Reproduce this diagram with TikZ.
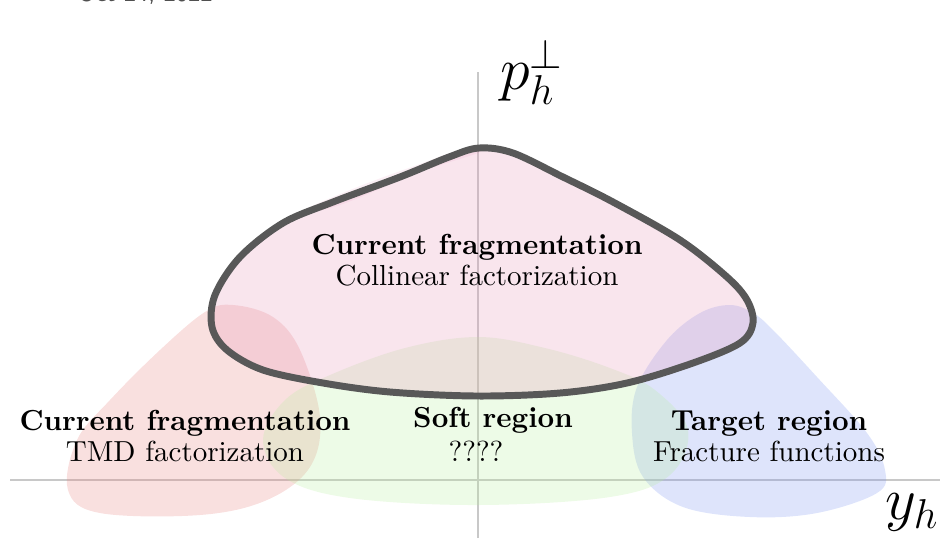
\documentclass[tikz,border=0pt]{standalone}
\definecolor{axisgray}{RGB}{200,200,200}
\definecolor{outlinegray}{RGB}{88,88,88}
\definecolor{datagray}{RGB}{80,80,80}
\definecolor{redbase}{RGB}{232,130,128}
\definecolor{bluebase}{RGB}{124,148,240}
\definecolor{greenbase}{RGB}{185,238,160}
\definecolor{pinkbase}{RGB}{230,150,185}
\begin{document}
\begin{tikzpicture}[x=0.345pt,y=-0.345pt,
  axisline/.style={draw=axisgray,line width=0.75pt},
  region/.style={fill opacity=0.25,draw=none},
  mainoutline/.style={draw=outlinegray,line width=2.4pt,line join=round},
  lbl/.style={align=center,inner sep=0pt},
  axlbl/.style={inner sep=0pt,font=\huge}]
\useasboundingbox (0,0) rectangle (940,538);

% date (cut off at top, as in the reference)
\node[anchor=base west,inner sep=0pt,font=\footnotesize\sffamily,text=datagray] (date) at (77,1.5) {Oct 24, 2022};

% axes
\coordinate (xl) at (10,480);
\coordinate (xr) at (940,480);
\coordinate (yb) at (478,538);
\coordinate (yt) at (478,72);
\draw[axisline] (xl) -- (xr);
\draw[axisline] (yb) -- (yt);

% red region (left)
\fill[region,fill=redbase] plot[smooth cycle,tension=0.6] coordinates {
 (233,305) (273,317) (300,350) (320,417) (310,467) (267,500) (200,515)
 (100,513) (68,490) (77,440) (110,400) (160,350) (205,312)};

% blue region (right)
\fill[region,fill=bluebase] plot[smooth cycle,tension=0.6] coordinates {
 (730,305) (753,313) (773,330) (817,377) (867,433) (885,470) (877,493)
 (817,513) (750,517) (683,507) (643,477) (632,433) (637,387) (667,340) (700,313)};

% green region (centre)
\fill[region,fill=greenbase] plot[smooth cycle,tension=0.6] coordinates {
 (478,337) (545,348) (610,368) (655,390) (688,430) (670,475) (610,497)
 (478,505) (350,498) (285,478) (263,440) (285,400) (330,375) (405,348)};

% faint pink halo above the upper-left outline
\fill[region,fill=pinkbase,fill opacity=0.15] plot[smooth cycle,tension=0.6] coordinates {
 (300,212) (360,186) (420,164) (460,150) (480,152) (420,172) (340,205)};

% main region
\filldraw[mainoutline,fill=pinkbase,fill opacity=0.25] plot[smooth cycle,tension=0.55] coordinates {
 (479,148) (513,153) (563,177) (613,202) (680,240) (727,277) (747,300)
 (753,323) (740,343) (693,363) (627,383) (560,393) (477,396) (390,392)
 (323,383) (263,370) (227,350) (212,327) (215,295) (240,257) (283,223)
 (333,202) (400,177) (449,157)};

% labels
\node[lbl] (coll) at (477,260) {\textbf{Current fragmentation}\\[-1.3pt]Collinear factorization};
\node[lbl] (tmd) at (185,436) {\textbf{Current fragmentation}\\[-1.3pt]TMD factorization};
\node[lbl] (soft) at (493,420) {\textbf{Soft region}};
\node[lbl] (softq) at (476,451) {????};
\node[lbl] (target) at (769,436) {\textbf{Target region}\\[-1.3pt]Fracture functions};

\node[axlbl] (pperp) at (532,72) {$p_h^\perp$};
\node[axlbl] (yh) at (912,512) {$y_h$};
\end{tikzpicture}
\end{document}
